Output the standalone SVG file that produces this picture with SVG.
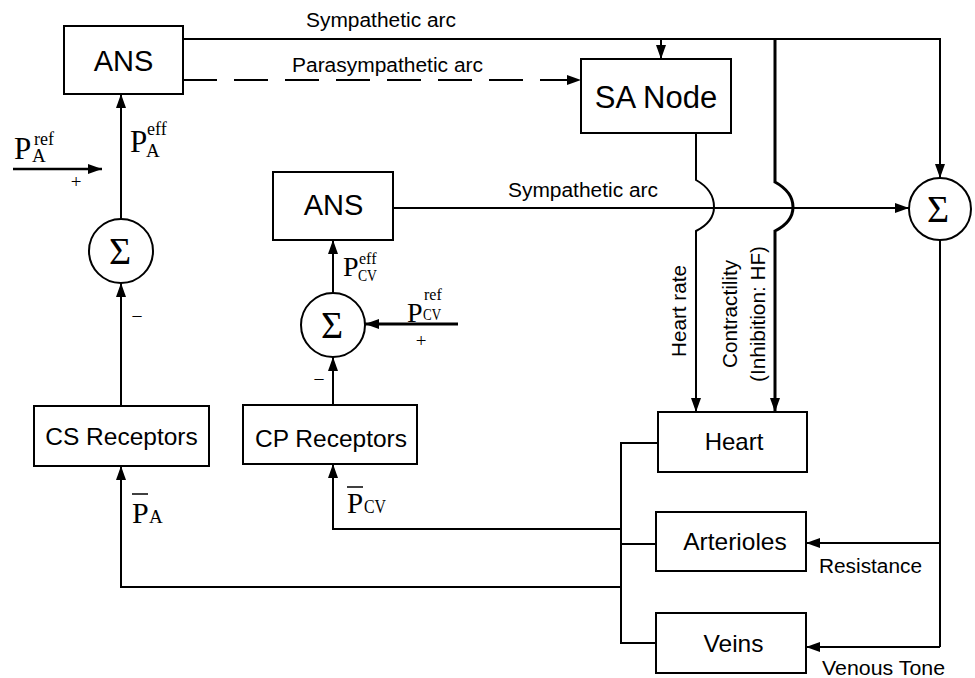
<svg xmlns="http://www.w3.org/2000/svg" width="975" height="678" viewBox="0 0 975 678">
<defs>
<marker id="arr" markerUnits="userSpaceOnUse" markerWidth="15" markerHeight="11" refX="14" refY="5" orient="auto">
<path d="M0,0 L14,5 L0,10 Z" fill="#000"/>
</marker>
<style>
.box{fill:#fff;stroke:#000;stroke-width:2}
.sum{fill:#fff;stroke:#000;stroke-width:2}
.ln{fill:none;stroke:#000;stroke-width:2}
.thk{fill:none;stroke:#000;stroke-width:3}
.dash{fill:none;stroke:#000;stroke-width:2;stroke-dasharray:34 17}
.a{marker-end:url(#arr)}
.t{font-family:"Liberation Sans",Arial,sans-serif;fill:#000}
.big{font-size:29px}
.mid{font-size:24.5px}
.sm{font-size:20px}
.s{font-family:"Liberation Serif","Times New Roman",serif;fill:#000}
.sig{font-size:38px;text-anchor:middle}
</style>
</defs>
<rect width="975" height="678" fill="#fff"/>

<g id="connectors">
<path class="dash a" d="M183,80 H581"/>
<path class="ln a" d="M183,39 H940 V178"/>
<path class="ln a" d="M661,39 V59"/>
<path class="thk a" d="M775,39 V182 Q793,192 793,207 Q793,222 775,231 V412"/>
<path class="ln a" d="M696,133 V180 Q714,190 714,207 Q714,222 696,231 V412"/>
<path class="ln a" d="M393,208 H909"/>
<path class="ln" d="M940,240 V647"/>
<path class="ln a" d="M940,543 H806"/>
<path class="ln a" d="M940,647 H806"/>
<path class="ln" d="M658,443 H621 V643 H656"/>
<path class="ln" d="M656,544 H621"/>
<path class="ln a" d="M621,529 H333 V464"/>
<path class="ln a" d="M621,587 H121 V466"/>
<path class="ln a" d="M121,406 V283"/>
<path class="ln a" d="M121,219 V94"/>
<path class="ln a" d="M13,169 H102" style="stroke-width:2.5"/>
<path class="ln a" d="M333,405 V357"/>
<path class="ln a" d="M333,293 V240"/>
<path class="thk a" d="M458,324 H365"/>
</g>

<g id="ans1">
<rect class="box" x="64" y="26" width="119" height="68"/>
<text class="t big" x="123.5" y="71" text-anchor="middle">ANS</text>
</g>
<g id="sa-node">
<rect class="box" x="581" y="59" width="150" height="74"/>
<text class="t" x="656" y="108" text-anchor="middle" style="font-size:31px">SA Node</text>
</g>
<g id="ans2">
<rect class="box" x="273" y="172" width="120" height="68"/>
<text class="t big" x="333.5" y="215" text-anchor="middle">ANS</text>
</g>
<g id="sum1">
<circle class="sum" cx="121" cy="251" r="32"/>
<text class="s sig" x="120" y="264">Σ</text>
</g>
<g id="sum2">
<circle class="sum" cx="333" cy="325" r="32"/>
<text class="s sig" x="332" y="338">Σ</text>
</g>
<g id="sum3">
<circle class="sum" cx="940" cy="209" r="31"/>
<text class="s sig" x="938" y="222">Σ</text>
</g>
<g id="cs-receptors">
<rect class="box" x="34" y="406" width="175" height="60"/>
<text class="t mid" x="121.5" y="445" text-anchor="middle">CS Receptors</text>
</g>
<g id="cp-receptors">
<rect class="box" x="243" y="405" width="174" height="59"/>
<text class="t mid" x="331" y="447" text-anchor="middle">CP Receptors</text>
</g>
<g id="heart">
<rect class="box" x="658" y="412" width="149" height="60"/>
<text class="t" x="734" y="450" text-anchor="middle" style="font-size:24px">Heart</text>
</g>
<g id="arterioles">
<rect class="box" x="656" y="512" width="150" height="59"/>
<text class="t mid" x="735" y="550" text-anchor="middle">Arterioles</text>
</g>
<g id="veins">
<rect class="box" x="656" y="613" width="150" height="60"/>
<text class="t mid" x="733.5" y="652" text-anchor="middle">Veins</text>
</g>

<g id="labels">
<text class="t sm" x="306" y="27" textLength="150" lengthAdjust="spacingAndGlyphs">Sympathetic arc</text>
<text class="t sm" x="292" y="72" textLength="191" lengthAdjust="spacingAndGlyphs">Parasympathetic arc</text>
<text class="t sm" x="508" y="197" textLength="150" lengthAdjust="spacingAndGlyphs">Sympathetic arc</text>
<text class="t sm" x="819" y="573" textLength="103" lengthAdjust="spacingAndGlyphs">Resistance</text>
<text class="t sm" x="822" y="675" textLength="123" lengthAdjust="spacingAndGlyphs">Venous Tone</text>
<text class="t sm" transform="translate(686,311) rotate(-90)" x="-46" textLength="92" lengthAdjust="spacingAndGlyphs">Heart rate</text>
<text class="t sm" transform="translate(737,314) rotate(-90)" x="-54" textLength="108" lengthAdjust="spacingAndGlyphs">Contractility</text>
<text class="t sm" transform="translate(765,314) rotate(-90)" x="-68" textLength="136" lengthAdjust="spacingAndGlyphs">(Inhibition: HF)</text>

<text class="s" x="14" y="159" style="font-size:31px">P</text>
<text class="s" x="34" y="145" style="font-size:18px">ref</text>
<text class="s" x="32" y="162" style="font-size:19px">A</text>
<text class="s" x="76" y="188" text-anchor="middle" style="font-size:19px">+</text>

<text class="s" x="130" y="152" style="font-size:31px">P</text>
<text class="s" x="147" y="135" style="font-size:18px">eff</text>
<text class="s" x="146" y="157" style="font-size:19px">A</text>

<text class="s" x="137" y="321" text-anchor="middle" style="font-size:18px">–</text>

<text class="s" x="343" y="276" style="font-size:28px">P</text>
<text class="s" x="359" y="264" style="font-size:16px">eff</text>
<text class="s" x="358" y="281" style="font-size:17px" textLength="19" lengthAdjust="spacingAndGlyphs">CV</text>

<text class="s" x="407" y="322" style="font-size:28px">P</text>
<text class="s" x="424" y="300" style="font-size:16px">ref</text>
<text class="s" x="423" y="320" style="font-size:17px" textLength="18" lengthAdjust="spacingAndGlyphs">CV</text>
<text class="s" x="421" y="347" text-anchor="middle" style="font-size:19px">+</text>

<text class="s" x="319" y="384" text-anchor="middle" style="font-size:18px">–</text>

<line x1="132" y1="494" x2="148" y2="494" stroke="#000" stroke-width="1.5"/>
<text class="s" x="132" y="523" style="font-size:30px">P</text>
<text class="s" x="149" y="523" style="font-size:19px">A</text>

<line x1="347" y1="487" x2="363" y2="487" stroke="#000" stroke-width="1.5"/>
<text class="s" x="347" y="513" style="font-size:29px">P</text>
<text class="s" x="364" y="513" style="font-size:18px" textLength="22" lengthAdjust="spacingAndGlyphs">CV</text>
</g>
</svg>
